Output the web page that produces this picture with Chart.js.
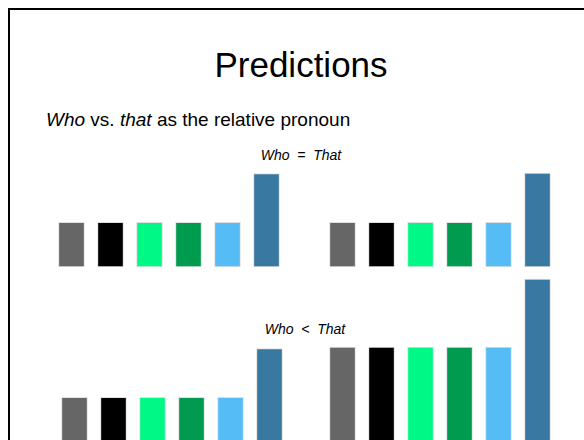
<!DOCTYPE html>
<html>
<head>
<meta charset="utf-8">
<title>Predictions</title>
<script src="https://cdn.jsdelivr.net/npm/chart.js@4"></script>
<style>
	html, body { margin: 0; padding: 0; background: #fff; }
	body {
		position: relative;
		width: 584px;
		height: 440px;
		overflow: hidden;
		font-family: "Liberation Sans", Arial, Helvetica, sans-serif;
		color: #000;
	}
	.frame {
		position: absolute;
		left: 8px;
		top: 8px;
		width: 620px;
		height: 480px;
		border-top: 2px solid #000;
		border-left: 2px solid #000;
	}
	.txt { position: absolute; line-height: 1; white-space: pre; }
	.title { left: 0; width: 602px; top: 47px; font-size: 35px; text-align: center; }
	.subtitle { left: 46px; top: 110px; font-size: 19px; }
	.label { left: 0; width: 602px; font-size: 14px; font-style: italic; text-align: center; }
	canvas { position: absolute; }
</style>
</head>
<body>
<div class="frame"></div>
<div class="txt title">Predictions</div>
<div class="txt subtitle"><i>Who</i> vs. <i>that</i> as the relative pronoun</div>
<div class="txt label" style="top: 148px;">Who  =  That</div>
<div class="txt label" style="top: 322px; left: 4px;">Who  &lt;  That</div>

<canvas id="eqLeft" width="234" height="179" style="left: 52px; top: 88px;"></canvas>
<canvas id="eqRight" width="234" height="179" style="left: 323px; top: 88px;"></canvas>
<canvas id="ltLeft" width="234" height="179" style="left: 55px; top: 263px;"></canvas>
<canvas id="ltRight" width="234" height="179" style="left: 323px; top: 263px;"></canvas>

<script>
const conditions = ["1", "2", "3", "4", "5", "6"];
const barColors = ["#666666", "#000000", "#00f986", "#009b4e", "#55bcf6", "#3978a0"];

// bar heights (one unit = the short bars of the top row)
const eqLeftValues = [1, 1, 1, 1, 1, 2.09];
const eqRightValues = [1, 1, 1, 1, 1, 2.1];
const ltLeftValues = [1, 1, 1, 1, 1, 2.09];
const ltRightValues = [2.12, 2.12, 2.12, 2.12, 2.12, 3.64];

const yMax = 4;

function drawGroup(id, values) {
	new Chart(document.getElementById(id), {
		type: "bar",
		data: {
			labels: conditions,
			datasets: [
				{
					data: values,
					backgroundColor: barColors,
					borderColor: "rgba(0, 0, 0, 0.12)",
					borderWidth: 1,
					borderSkipped: false,
					barThickness: 26,
				},
			],
		},
		options: {
			responsive: false,
			animation: false,
			events: [],
			layout: { padding: 0 },
			plugins: {
				legend: { display: false },
				tooltip: { enabled: false },
			},
			scales: {
				x: { display: false },
				y: { display: false, min: 0, max: yMax },
			},
		},
	});
}

drawGroup("eqLeft", eqLeftValues);
drawGroup("eqRight", eqRightValues);
drawGroup("ltLeft", ltLeftValues);
drawGroup("ltRight", ltRightValues);
</script>
</body>
</html>
